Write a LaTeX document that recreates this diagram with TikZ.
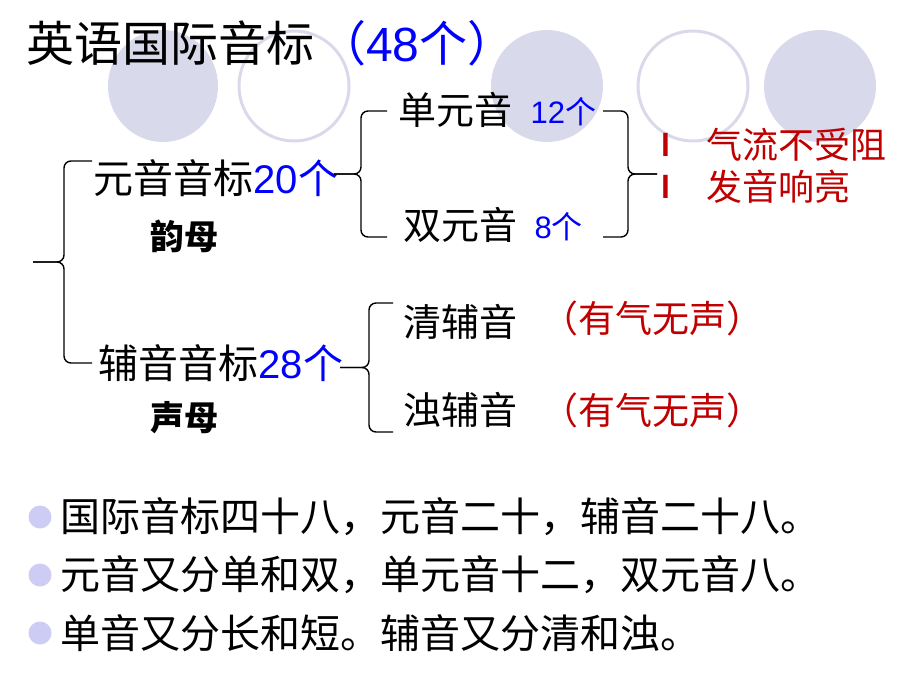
\documentclass[tikz,border=0pt]{standalone}
\usepackage{fontspec}
\setmainfont{Noto Sans CJK SC}
\newfontfamily\latin{Liberation Sans}
\usetikzlibrary{positioning}

\definecolor{lav}{RGB}{217,217,236}
\definecolor{dotc}{RGB}{204,204,245}
\definecolor{darkred}{RGB}{192,0,0}
\definecolor{pureblue}{RGB}{0,0,255}

% brace: tip x, stem x, hook x, top y, bottom y
\newcommand{\curly}[5]{%
  \draw[brace] (#3,#4) -- (#2,#4) -- (#2,{(#4+#5)/2}) -- (#1,{(#4+#5)/2});
  \draw[brace] (#3,#5) -- (#2,#5) -- (#2,{(#4+#5)/2}) -- (#1,{(#4+#5)/2});
}

\begin{document}
\begin{tikzpicture}[x=1pt, y=-1pt,
  txt/.style={anchor=west, inner sep=0pt, font=\fontsize{#1}{#1}\selectfont},
  txt/.default=40,
  num/.style={txt=#1, text=pureblue},
  note/.style={txt=#1, text=darkred},
  brace/.style={line width=1.4pt, rounded corners=7pt},
  deco/.style={fill=lav, draw=none},
  ring/.style={draw=lav, line width=3pt},
  dot/.style={circle, fill=dotc, minimum size=23pt, inner sep=0pt},
]
\useasboundingbox (0,0) rectangle (920,690);

% background ovals
\path[deco] (163,86) ellipse (55pt and 56pt);
\path[ring] (294,86) ellipse (55pt and 55pt);
\path[deco] (547,86) ellipse (56pt and 56pt);
\path[ring] (693,86) ellipse (55pt and 55pt);
\path[deco] (820,86) ellipse (56pt and 56pt);

% title
\node (title) [txt=48] at (26,43) {英语国际音标};
\node (total) [num=48] at (318,43) {（{\latin 48}个）};

% first level
\node (vowel) [txt] at (93,178) {元音音标};
\node (vcount) [num=40, right=0pt of vowel] {{\latin 20}个};
\node (yunmu) [txt=34] at (150,236) {\bfseries 韵母};
\node (cons) [txt] at (98,363) {辅音音标};
\node (ccount) [num=40, right=0pt of cons] {{\latin 28}个};
\node (shengmu) [txt=34] at (150,418) {\bfseries 声母};

% vowels
\node (mono) [txt=38] at (398,110) {单元音};
\node (monon) [num=31, right=18pt of mono, yshift=-2pt] {{\latin 12}个};
\node (diph) [txt=38] at (403,225) {双元音};
\node (diphn) [num=31, right=17pt of diph, yshift=-2pt] {{\latin 8}个};
\node (bar1) [note=32] at (661,145) {\latin\bfseries l};
\node (bar2) [note=32] at (661,187) {\latin\bfseries l};
\node (air) [note=36] at (706,145) {气流不受阻};
\node (loud) [note=36] at (706,187) {发音响亮};

% consonants
\node (vless) [txt=38] at (403,322) {清辅音};
\node (vlnote) [note=37, right=24pt of vless, yshift=4pt] {（有气无声）};
\node (vcd) [txt=38] at (403,410) {浊辅音};
\node (vdnote) [note=37, right=24pt of vcd] {（有气无声）};

% braces
\curly{33}{64}{92}{161}{363}
\curly{334}{361}{387}{111}{237}
\curly{657}{628}{603}{111}{237}
\curly{340}{369}{393}{303}{432}

% rhyme lines
\node (dot1) [dot] at (40,517) {};
\node (dot2) [dot] at (40,575) {};
\node (dot3) [dot] at (40,633) {};
\node (line1) [txt=40, right=9pt of dot1] {国际音标四十八，元音二十，辅音二十八。};
\node (line2) [txt=40, right=9pt of dot2] {元音又分单和双，单元音十二，双元音八。};
\node (line3) [txt=40, right=9pt of dot3] {单音又分长和短。辅音又分清和浊。};

\end{tikzpicture}
\end{document}
